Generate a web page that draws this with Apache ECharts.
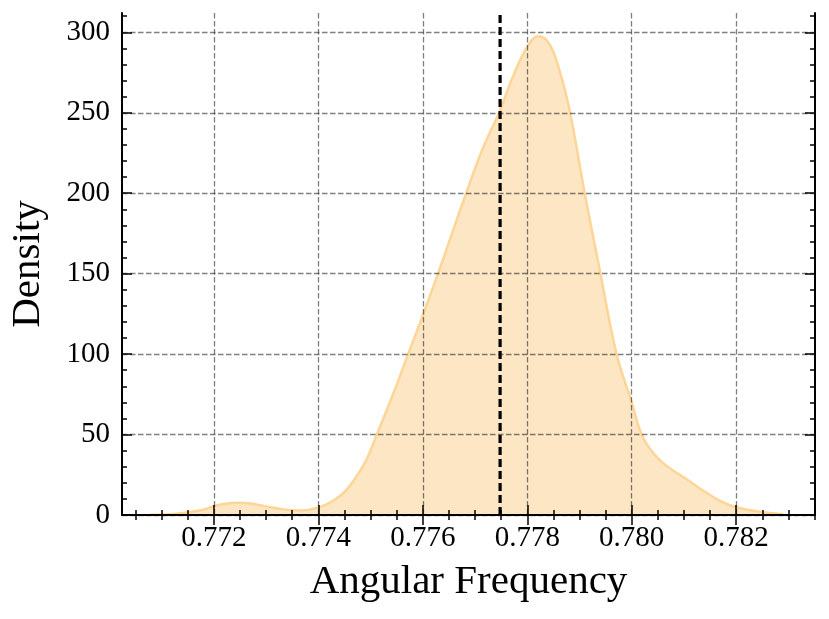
<!DOCTYPE html>
<html>
<head>
<meta charset="utf-8">
<script src="https://cdn.jsdelivr.net/npm/echarts@6/dist/echarts.min.js"></script>
<style>
html,body{margin:0;padding:0;background:#fff;}
#chart{width:829px;height:619px;}
</style>
</head>
<body>
<div id="chart"></div>
<script>
// Data (KDE curve)
const freq = [0.77079, 0.77127, 0.77175, 0.77200, 0.77222, 0.77247, 0.77274, 0.77302, 0.77333, 0.77366,
  0.77400, 0.77429, 0.77452, 0.77471, 0.77493, 0.77512, 0.77543, 0.77572, 0.77600,
  0.77629, 0.77656, 0.77683, 0.77715, 0.77746, 0.77772, 0.77800, 0.77821, 0.77842,
  0.77862, 0.77882, 0.77910, 0.77939, 0.77971, 0.78000, 0.78019, 0.78040, 0.78065,
  0.78111, 0.78130, 0.78168, 0.78200, 0.78245, 0.78290];
const density = [0.2, 0.8, 3, 5.4, 7, 7.6, 7, 5.2, 3.5, 2.8,
  4.6, 9, 15, 23, 35, 50, 75, 100, 124,
  150, 175, 200, 228, 250, 272, 291, 297.5, 293,
  276, 250, 200, 152, 100, 70, 50, 39, 31,
  21, 16.6, 9, 4.8, 2, 0.5];
const meanLine = 0.77748;
const xTicks = [0.772, 0.774, 0.776, 0.778, 0.780, 0.782];
const yTicks = [0, 50, 100, 150, 200, 250, 300];
const xRange = [0.77024, 0.78351];
const yRange = [0, 312];
const xLabel = 'Angular Frequency';
const yLabel = 'Density';

const xMinor = [];
for (let i = 0; i <= 26; i++) { const v = +(0.7705 + i * 0.0005).toFixed(4); if (v > xRange[0] && v < xRange[1]) xMinor.push(v); }
const yMinor = [];
for (let v = 10; v < yRange[1]; v += 10) yMinor.push(v);

const FONT = 'Liberation Serif';
const black = '#000';
const gridStyle = {color: 'rgba(0,0,0,0.5)', width: 1.3, type: [5.5, 2.5]};

function xAx(pos, major, labels) {
  return {
    type: 'value', position: pos, min: xRange[0], max: xRange[1], z: 5,
    axisLine: {show: major, lineStyle: {color: black, width: 2}},
    axisTick: {show: true, inside: true, length: major ? 10 : 5, lineStyle: {color: black, width: 1.5},
      customValues: major ? xTicks : xMinor},
    axisLabel: labels ? {show: true, customValues: xTicks, formatter: v => v.toFixed(3),
      fontFamily: FONT, fontSize: 29, color: black, margin: 9} : {show: false},
    splitLine: labels ? {show: true, lineStyle: gridStyle} : {show: false},
    name: labels ? xLabel : '', nameLocation: 'middle', nameGap: 47,
    nameTextStyle: {fontFamily: FONT, fontSize: 41, color: black}
  };
}
function yAx(pos, major, labels) {
  return {
    type: 'value', position: pos, min: yRange[0], max: yRange[1], z: 5,
    axisLine: {show: major, lineStyle: {color: black, width: 2}},
    axisTick: {show: true, inside: true, length: major ? 10 : 5, lineStyle: {color: black, width: 1.5},
      customValues: major ? yTicks : yMinor},
    axisLabel: labels ? {show: true, customValues: yTicks, fontFamily: FONT, fontSize: 29, color: black, margin: 12} : {show: false},
    splitLine: labels ? {show: true, lineStyle: gridStyle} : {show: false},
    name: labels ? yLabel : '', nameLocation: 'middle', nameGap: 73,
    nameTextStyle: {fontFamily: FONT, fontSize: 41, color: black}
  };
}

const chart = echarts.init(document.getElementById('chart'), null, {renderer: 'canvas'});
chart.setOption({
  animation: false,
  backgroundColor: '#fff',
  grid: {left: 121, right: 14, top: 13, bottom: 104, containLabel: false},
  xAxis: [xAx('bottom', true, true), xAx('bottom', false, false), xAx('top', true, false), xAx('top', false, false)],
  yAxis: [yAx('left', true, true), yAx('left', false, false), yAx('right', true, false), yAx('right', false, false)],
  series: [{
    type: 'line', xAxisIndex: 0, yAxisIndex: 0,
    data: freq.map((f, i) => [f, density[i]]),
    smooth: 0.4, showSymbol: false, symbol: 'none',
    lineStyle: {color: '#fdd596', width: 2.5},
    areaStyle: {color: '#fde6c3', opacity: 1},
    z: 2
  }, {
    type: 'line', xAxisIndex: 0, yAxisIndex: 0,
    data: [[meanLine, yRange[0]], [meanLine, yRange[1]]],
    showSymbol: false, symbol: 'none',
    lineStyle: {color: black, width: 3.2, type: [8, 4]},
    z: 10
  }]
});
</script>
</body>
</html>
